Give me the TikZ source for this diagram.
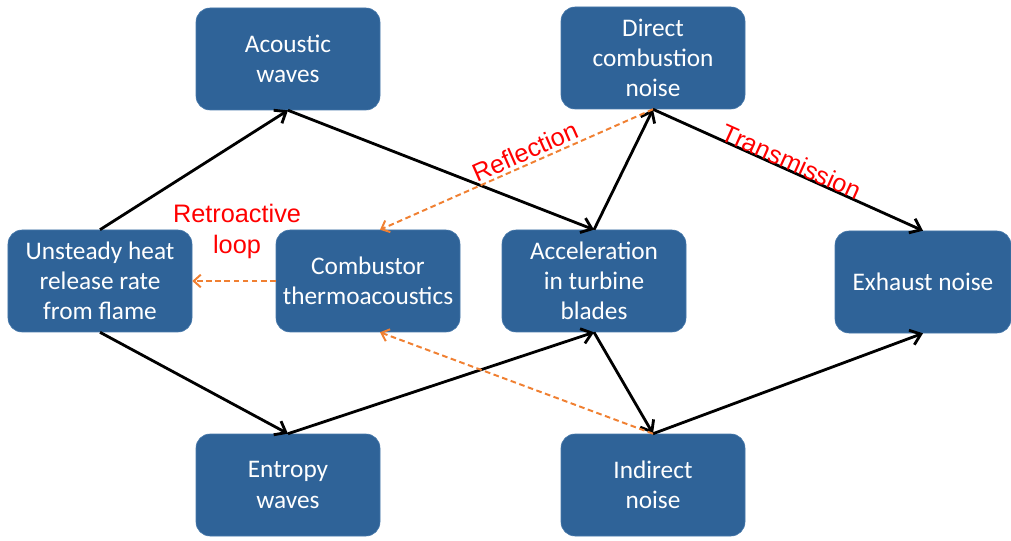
\documentclass[tikz,border=0pt]{standalone}
\usepackage{fontspec}
\setmainfont{Carlito}
\newfontfamily\labelfont{Liberation Sans}
\usetikzlibrary{arrows.meta}
\definecolor{boxblue}{RGB}{47,99,152}
\definecolor{boxedge}{RGB}{70,120,170}
\definecolor{loopred}{RGB}{255,0,0}
\definecolor{feedorange}{RGB}{240,128,50}

\begin{document}
\begin{tikzpicture}

      \useasboundingbox (0,0) rectangle (25.275,13.5);

      \begin{scope}[every node/.style={rectangle,rounded corners=0.35cm,fill=boxblue,draw=boxedge,
          text=white,align=center,minimum width=4.6cm,minimum height=2.55cm,
          font=\fontsize{18}{21.5}\selectfont}]
        \node (1) at (2.5,6.475)    {Unsteady heat\\release rate\\from flame};
        \node (2) at (9.2,6.475)    {Combustor\\thermoacoustics};
        \node (3) at (14.85,6.475)  {Acceleration\\in turbine\\blades};
        \node[minimum width=4.4cm] (4) at (23.075,6.45) {Exhaust noise};
        \node (5) at (7.2,12.025)   {Acoustic\\waves};
        \node (6) at (16.325,12.05) {Direct\\combustion\\noise};
        \node (7) at (7.2,1.375)    {Entropy\\waves};
        \node (8) at (16.325,1.375) {Indirect\\noise};
      \end{scope}

      \node[text=loopred,align=center,font=\labelfont\fontsize{18}{22}\selectfont] (loop) at (5.925,7.725) {Retroactive\\loop};

      \begin{scope}[every node/.style={text=loopred,font=\labelfont\fontsize{18}{22}\selectfont,sloped,inner sep=1pt}]

        \begin{scope}[every edge/.style={draw,line width=2pt,-{Straight Barb[length=7pt,width=11pt]}}]
          \path (1.north) edge (5.south);
          \path (5.south) edge (3.north);
          \path (3.north) edge (6.south);
          \path (6.south) edge node[above,pos=.5,yshift=-2pt] {Transmission} (4.north);
          \path (1.south) edge (7.north);
          \path (7.north) edge (3.south);
          \path (3.south) edge (8.north);
          \path (8.north) edge (4.south);
        \end{scope}

        \begin{scope}[every edge/.style={draw=feedorange,line width=1.4pt,dash pattern=on 4pt off 2.5pt,
            -{Straight Barb[length=5pt,width=9pt]}}]
          \path (6.south) edge node[above,pos=.45,yshift=1pt] {Reflection} ([xshift=0.3cm]2.north);
          \path (8.north) edge ([xshift=0.3cm]2.south);
          \path (2.west)  edge (1.east);
        \end{scope}
      \end{scope}

    \end{tikzpicture}
\end{document}
